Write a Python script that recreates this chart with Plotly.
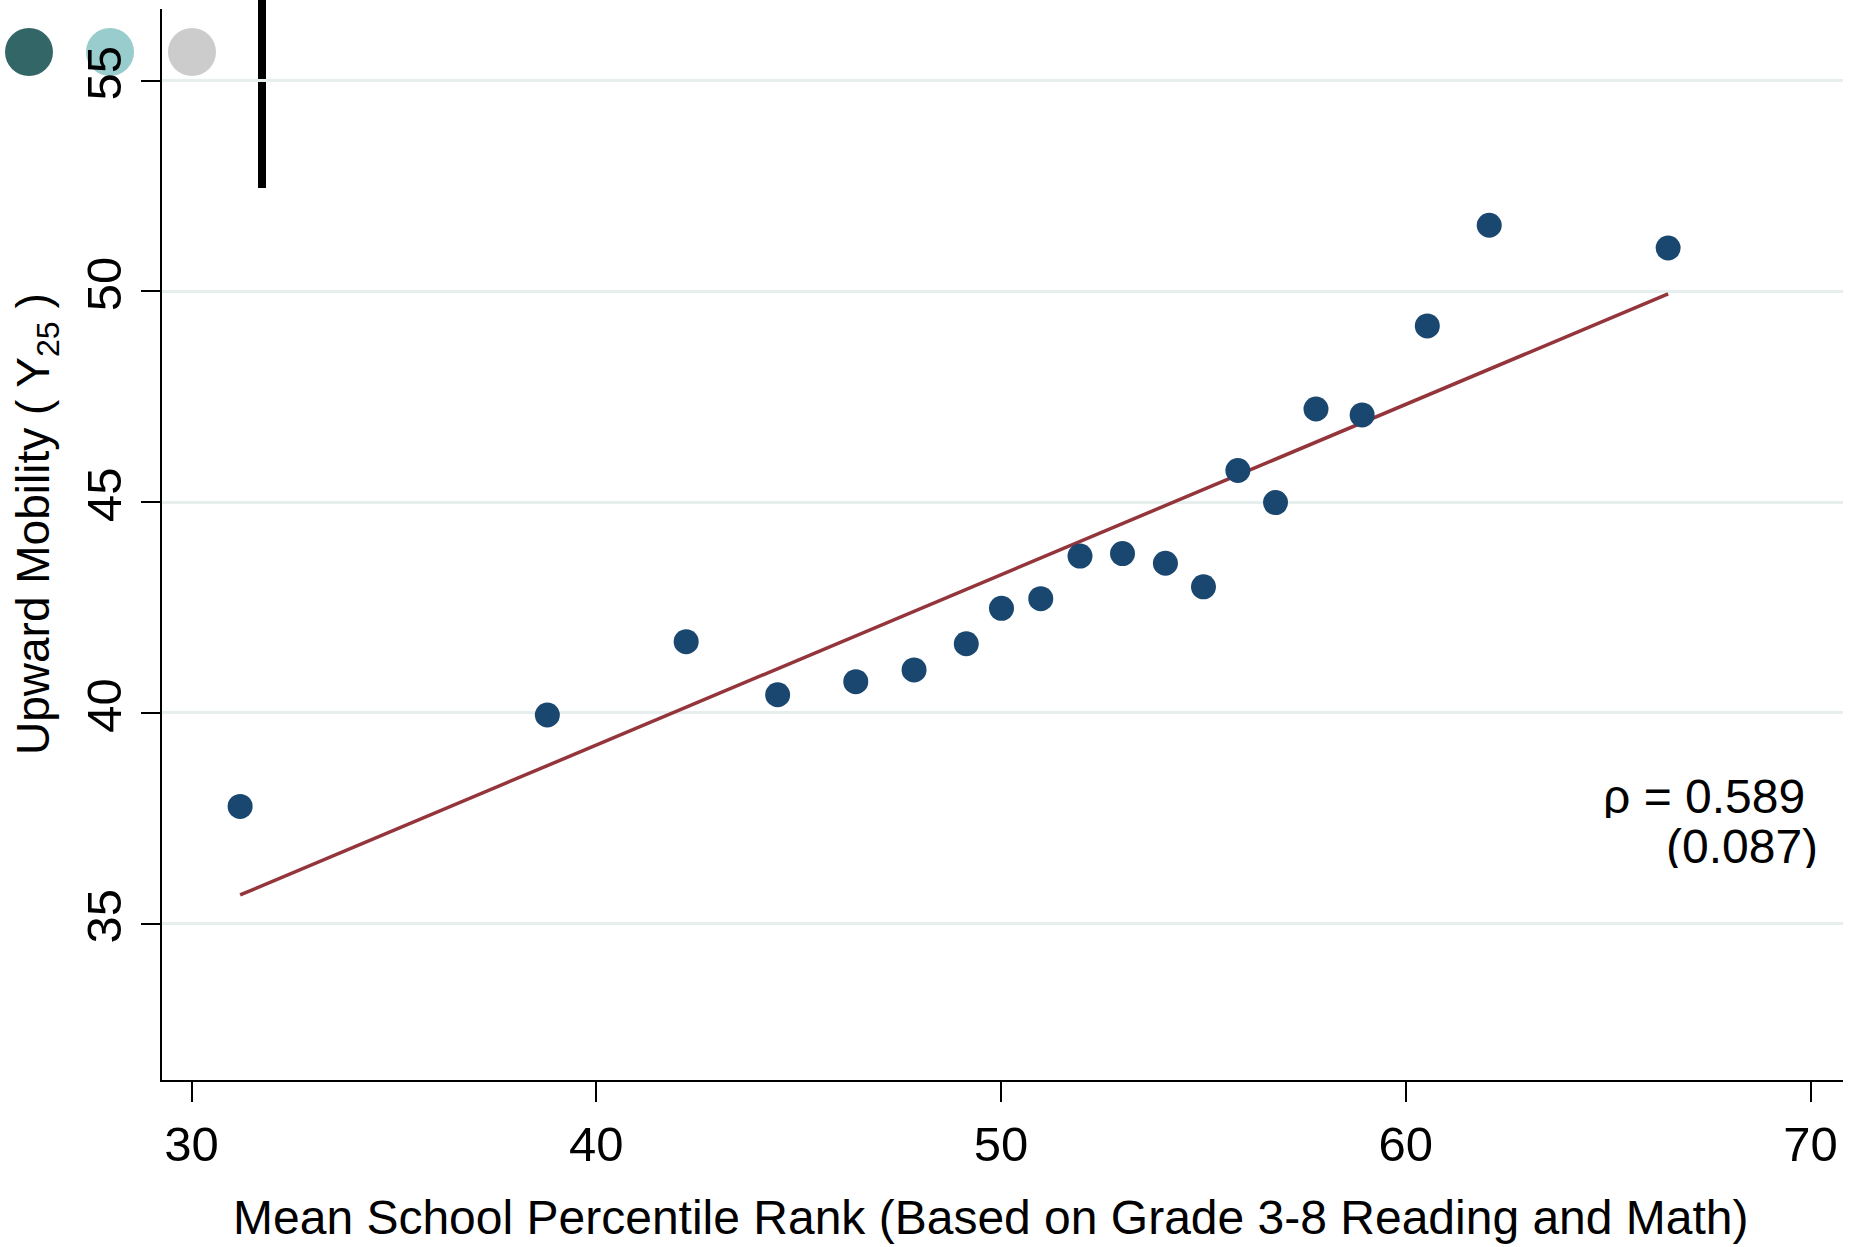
import plotly.graph_objects as go

# Binned scatter: mean school percentile rank vs. upward mobility
school_rank = [31.20, 38.79, 42.22, 44.48, 46.41, 47.85, 49.14, 50.01, 50.98, 51.95,
               53.00, 54.06, 55.00, 55.85, 56.78, 57.78, 58.92, 60.53, 62.06, 66.48]
mobility = [37.78, 39.95, 41.69, 40.43, 40.74, 41.02, 41.64, 42.48, 42.71, 43.72,
            43.78, 43.55, 42.99, 45.75, 44.99, 47.21, 47.07, 49.18, 51.57, 51.03]

# Linear fit endpoints
fit_x = [31.20, 66.48]
fit_y = [35.68, 49.94]

x_ticks = [30, 40, 50, 60, 70]
y_ticks = [35, 40, 45, 50, 55]

FONT = "Liberation Sans, Arial, Helvetica, sans-serif"

W, H = 1859, 1247
L, R, T, B = 162, 16, 9, 167
PW, PH = W - L - R, H - T - B


def px_x(p):
    return (p - L) / PW


def px_y(p):
    return (H - B - p) / PH


fig = go.Figure()

fig.add_trace(go.Scatter(
    x=fit_x, y=fit_y, mode="lines",
    line=dict(color="#94343b", width=3.5),
    hoverinfo="skip", showlegend=False,
))
fig.add_trace(go.Scatter(
    x=school_rank, y=mobility, mode="markers",
    marker=dict(color="#1a476f", size=25, line=dict(width=0)),
    showlegend=False,
))

# legend key swatches in the top-left corner
swatches = [(29, "#336666"), (110, "#99cccc"), (192, "#cccccc")]
for cx, col in swatches:
    fig.add_shape(type="circle", xref="paper", yref="paper",
                  x0=px_x(cx - 24), x1=px_x(cx + 24),
                  y0=px_y(52 + 24), y1=px_y(52 - 24),
                  fillcolor=col, line=dict(width=0), layer="below")

fig.add_shape(type="line", xref="paper", yref="paper",
              x0=px_x(262), x1=px_x(262), y0=px_y(188), y1=px_y(0),
              line=dict(color="black", width=8), layer="below")

fig.add_annotation(text="ρ = 0.589", xref="paper", yref="paper",
                   x=px_x(1601), y=px_y(796), xanchor="left", yanchor="middle",
                   height=44, showarrow=False,
                   font=dict(family=FONT, size=48, color="black"))
fig.add_annotation(text="(0.087)", xref="paper", yref="paper",
                   x=px_x(1820), y=px_y(846), xanchor="right", yanchor="middle",
                   height=44, showarrow=False,
                   font=dict(family=FONT, size=48, color="black"))

fig.add_annotation(text="Mean School Percentile Rank (Based on Grade 3-8 Reading and Math)",
                   xref="paper", yref="paper", x=px_x(991), y=px_y(1217),
                   xanchor="center", yanchor="middle", showarrow=False,
                   font=dict(family=FONT, size=48, color="black"))
fig.add_annotation(text="Upward Mobility ( Y<sub>25</sub> )",
                   xref="paper", yref="paper", x=px_x(36), y=px_y(524),
                   xanchor="center", yanchor="middle", textangle=-90, showarrow=False,
                   font=dict(family=FONT, size=46, color="black"))

fig.update_layout(
    width=W, height=H,
    margin=dict(l=L, r=R, t=T, b=B, autoexpand=False),
    paper_bgcolor="white", plot_bgcolor="white",
    font=dict(family=FONT, color="black"),
)
fig.update_xaxes(
    range=[29.27, 70.8], tickvals=x_ticks, ticktext=[str(v) for v in x_ticks],
    showgrid=False, zeroline=False,
    showline=True, linecolor="black", linewidth=2,
    ticks="outside", ticklen=20, tickwidth=1.5, tickcolor="black",
    tickfont=dict(family=FONT, size=49, color="black"), ticklabelstandoff=0,
)
fig.update_yaxes(
    range=[31.29, 56.7], tickvals=y_ticks, ticktext=[str(v) for v in y_ticks],
    showgrid=True, gridcolor="#e6eeee", gridwidth=3, zeroline=False,
    showline=True, linecolor="black", linewidth=2,
    ticks="outside", ticklen=19, tickwidth=2, tickcolor="black",
    tickangle=-90, tickfont=dict(family=FONT, size=49, color="black"),
    ticklabelstandoff=0,
)

fig.write_html("out.html")
